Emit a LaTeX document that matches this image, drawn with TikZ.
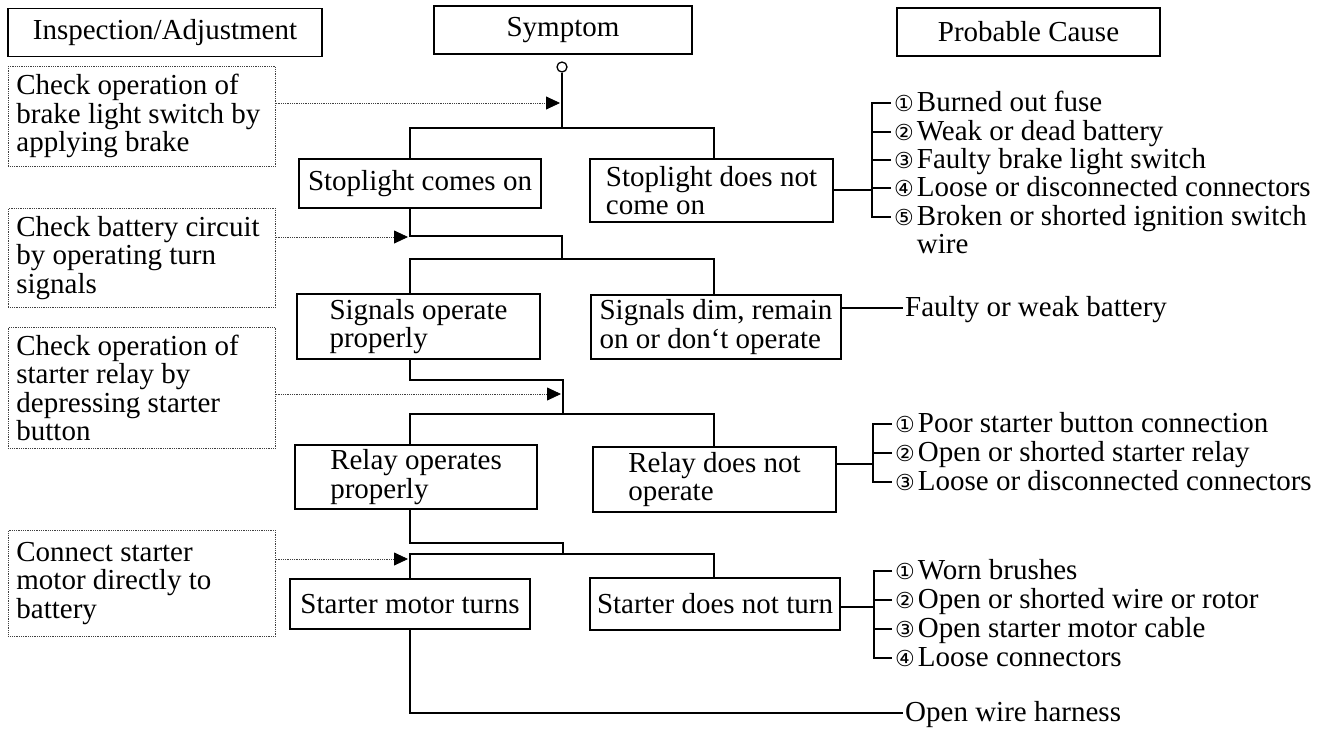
\documentclass[tikz,border=0pt]{standalone}
\usepackage{fontspec}
\setmainfont{Liberation Serif}
\newfontfamily\circfont{DejaVu Sans}
\usetikzlibrary{positioning, arrows.meta, calc}

\newcommand{\chartfont}{\fontsize{29}{28.5}\selectfont}
\newcommand{\cnum}[1]{{\kern-2pt\circfont\fontsize{22}{22}\selectfont #1}\kern3pt}

\begin{document}
\begin{tikzpicture}[
	x=1pt, y=-1pt,
	font=\chartfont,
	header/.style={rectangle, draw=black, line width=1.6pt, minimum height=48pt, inner sep=0pt},
	symbox/.style={rectangle, draw=black, line width=1.6pt, align=left, inner sep=0pt},
	hintbox/.style={rectangle, draw=black!75, densely dotted, line width=0.8pt, align=flush left, inner xsep=8pt, inner ysep=0pt, text width=251pt, anchor=north west},
	wire/.style={line width=1.5pt},
	hint/.style={densely dotted, line width=0.8pt, draw=black!75, -{Triangle[length=14pt, width=13pt, black]}, shorten >=1pt},
	cause/.style={anchor=base west, inner xsep=5pt, inner ysep=0pt, align=flush left}
	]
	\useasboundingbox (0,0) rectangle (1324,731);

	% Column headers
	\node[header, minimum width=314pt] (insp) at (165,32.5) {Inspection/Adjustment};
	\node[header, minimum width=258pt] (symp) at (563,30) {Symptom};
	\node[header, minimum width=263pt] (prob) at (1028.5,32) {Probable Cause};

	% Inspection steps (dotted boxes)
	\node[hintbox, minimum height=100pt] (chk1) at (8,66) {Check operation of\\brake light switch by\\applying brake};
	\node[hintbox, minimum height=99pt] (chk2) at (8,208) {Check battery circuit\\by operating turn\\signals};
	\node[hintbox, minimum height=121pt] (chk3) at (8,327) {Check operation of\\starter relay by\\depressing starter\\button};
	\node[hintbox, minimum height=106pt] (chk4) at (8,530) {Connect starter\\motor directly to\\battery};

	% Symptoms
	\node[circle, draw, line width=1.3pt, minimum size=10pt, inner sep=0pt] (start) at (562,67) {};
	\node[symbox, minimum width=242pt, minimum height=49pt] (ok1) at (420,183.5) {Stoplight comes on};
	\node[symbox, minimum width=243pt, minimum height=63pt] (ng1) at (711.5,190.5) {Stoplight does not\\come on};
	\node[symbox, minimum width=243pt, minimum height=65pt] (ok2) at (418.5,326.5) {Signals operate\\properly};
	\node[symbox, minimum width=250pt, minimum height=64pt] (ng2) at (716,327) {Signals dim, remain\\on or don‘t operate};
	\node[symbox, minimum width=242pt, minimum height=64pt] (ok3) at (416,477) {Relay operates\\properly};
	\node[symbox, minimum width=243pt, minimum height=65pt] (ng3) at (714.5,479.5) {Relay does not\\operate};
	\node[symbox, minimum width=240pt, minimum height=50pt] (ok4) at (410,604) {Starter motor turns};
	\node[symbox, minimum width=250pt, minimum height=52pt] (ng4) at (715,604) {Starter does not turn};

	% Probable causes
	\node[cause] (c11) at (891,111) {\cnum{①}Burned out fuse};
	\node[cause] (c12) at (891,140) {\cnum{②}Weak or dead battery};
	\node[cause] (c13) at (891,168) {\cnum{③}Faulty brake light switch};
	\node[cause] (c14) at (891,196) {\cnum{④}Loose or disconnected connectors};
	\node[cause, text width=520pt] (c15) at (891,225) {\cnum{⑤}Broken or shorted ignition switch\\\phantom{\cnum{⑤}}wire};
	\node[cause, inner xsep=2pt] (weak) at (903,316) {Faulty or weak battery};
	\node[cause] (c21) at (892,432) {\cnum{①}Poor starter button connection};
	\node[cause] (c22) at (892,461) {\cnum{②}Open or shorted starter relay};
	\node[cause] (c23) at (892,490) {\cnum{③}Loose or disconnected connectors};
	\node[cause] (c31) at (892,579) {\cnum{①}Worn brushes};
	\node[cause] (c32) at (892,608) {\cnum{②}Open or shorted wire or rotor};
	\node[cause] (c33) at (892,637) {\cnum{③}Open starter motor cable};
	\node[cause] (c34) at (892,666) {\cnum{④}Loose connectors};
	\node[cause, inner xsep=2pt] (harness) at (903,721) {Open wire harness};

	% Junction points
	\coordinate (lane) at (410,0);
	\coordinate (rlane) at (714,0);
	\coordinate (bar1) at (562,128);
	\coordinate (turn2) at (562,236);
	\coordinate (bar2) at (562,259);
	\coordinate (turn3) at (563,380);
	\coordinate (bar3) at (563,414);
	\coordinate (turn4) at (563,543);
	\coordinate (bar4) at (563,554);
	\coordinate (tip1) at (561,103);
	\coordinate (tip2) at (409,237);
	\coordinate (tip3) at (562,394);
	\coordinate (tip4) at (409,559);
	\coordinate (brk1) at (872,190);
	\coordinate (brk2) at (873,464);
	\coordinate (brk3) at (874,607);

	% Main flow
	\draw[wire] (start) -- (bar1);
	\draw[wire] (ok1.north -| lane) |- (bar1) -| (ng1.north -| rlane);
	\draw[wire] (ok1.south -| lane) |- (turn2) -- (bar2);
	\draw[wire] (ok2.north -| lane) |- (bar2) -| (ng2.north -| rlane);
	\draw[wire] (ok2.south -| lane) |- (turn3) -- (bar3);
	\draw[wire] (ok3.north -| lane) |- (bar3) -| (ng3.north -| rlane);
	\draw[wire] (ok3.south -| lane) |- (turn4) -- (bar4);
	\draw[wire] (ok4.north -| lane) |- (bar4) -| (ng4.north -| rlane);
	\draw[wire] (ok4.south -| lane) |- ([yshift=8pt]harness.base west);

	% Inspection arrows
	\draw[hint] (chk1.east |- tip1) -- (tip1);
	\draw[hint] (chk2.east |- tip2) -- (tip2);
	\draw[hint] (chk3.east |- tip3) -- (tip3);
	\draw[hint] (chk4.east |- tip4) -- (tip4);

	% Cause brackets
	\draw[wire] (brk1 -| ng1.east) -- (brk1);
	\draw[wire] ([yshift=8pt]c11.base west) -| (brk1) |- ([yshift=8pt]c15.base west);
	\foreach \i in {2,3,4} \draw[wire] ([yshift=8pt]c1\i.base west) -| (brk1);
	\draw[wire] ([yshift=8pt]weak.base west -| ng2.east) -- ([yshift=8pt]weak.base west);
	\draw[wire] (brk2 -| ng3.east) -- (brk2);
	\draw[wire] ([yshift=8pt]c21.base west) -| (brk2) |- ([yshift=8pt]c23.base west);
	\draw[wire] ([yshift=8pt]c22.base west) -| (brk2);
	\draw[wire] (brk3 -| ng4.east) -- (brk3);
	\draw[wire] ([yshift=8pt]c31.base west) -| (brk3) |- ([yshift=8pt]c34.base west);
	\foreach \i in {2,3} \draw[wire] ([yshift=8pt]c3\i.base west) -| (brk3);

\end{tikzpicture}
\end{document}
